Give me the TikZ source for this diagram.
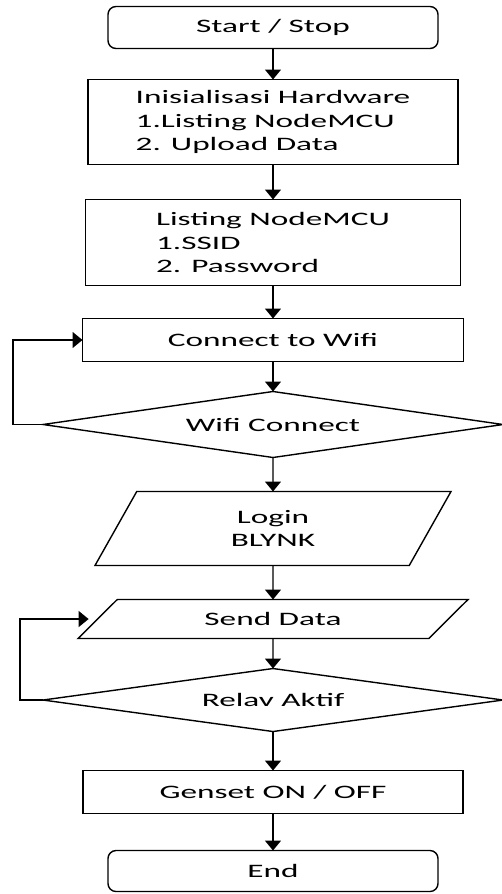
\documentclass[tikz,border=0pt]{standalone}
\usepackage{fontspec}
\setmainfont[FakeStretch=1.75]{Carlito}
\usetikzlibrary{arrows.meta,positioning,shapes.geometric}

\begin{document}
\begin{tikzpicture}[
  node distance=33pt,
  line width=1.4pt,
  every node/.style={outer sep=0pt},
  font=\fontsize{19}{23.5}\selectfont,
  term/.style={rectangle, rounded corners=8pt, draw, minimum width=330pt, minimum height=42pt},
  proc/.style={rectangle, draw, minimum width=375pt, minimum height=43pt},
  io/.style={trapezium, draw, trapezium stretches body, align=center},
  decide/.style={diamond, draw, aspect=7, inner sep=0pt, minimum width=460pt},
  flow/.style={-{Triangle[width=16pt,length=10pt]}},
]
  \useasboundingbox (0,0) rectangle (501pt,-894pt);
  \node[term] (start) at (273pt,-27.5pt) {Start / Stop};
  \node[proc, minimum width=370pt, minimum height=85pt, align=left, below=31pt of start] (init) {Inisialisasi Hardware\\1.Listing NodeMCU\\2. Upload Data};
  \node[proc, minimum height=86pt, align=left, below=35pt of init] (listing) {Listing NodeMCU\\1.SSID\\2. Password};
  \node[proc, minimum width=381pt, below=of listing] (connect) {Connect to Wifi};
  \node[decide, minimum height=66pt, below=30pt of connect] (wifi) {Wifi Connect};
  \node[io, trapezium left angle=46, trapezium right angle=134, minimum width=356pt, minimum height=74pt, below=34pt of wifi] (login) {Login\\BLYNK};
  \node[io, trapezium left angle=27, trapezium right angle=153, minimum width=390pt, minimum height=39pt, below=34pt of login] (send) {Send Data};
  \node[decide, minimum height=63pt, below=30pt of send] (relay) {Relav Aktif};
  \node[proc, minimum width=380pt, below=39pt of relay] (genset) {Genset ON / OFF};
  \node[term, minimum height=41pt, below=37pt of genset] (end) {End};

  \draw[flow] (start) -- (init);
  \draw[flow] (init) -- (listing);
  \draw[flow] (listing) -- (connect);
  \draw[flow] (connect) -- (wifi);
  \draw[flow] (wifi) -- (login);
  \draw[flow] (login) -- (send);
  \draw[flow] (send) -- (relay);
  \draw[flow] (relay) -- (genset);
  \draw[flow] (genset) -- (end);

  \draw[flow] (wifi.west) -- ++(-30pt,0) |- (connect.west);
  \draw[flow, shorten >=9pt] (relay.west) -- ++(-23pt,0) |- (send.west);
\end{tikzpicture}
\end{document}
